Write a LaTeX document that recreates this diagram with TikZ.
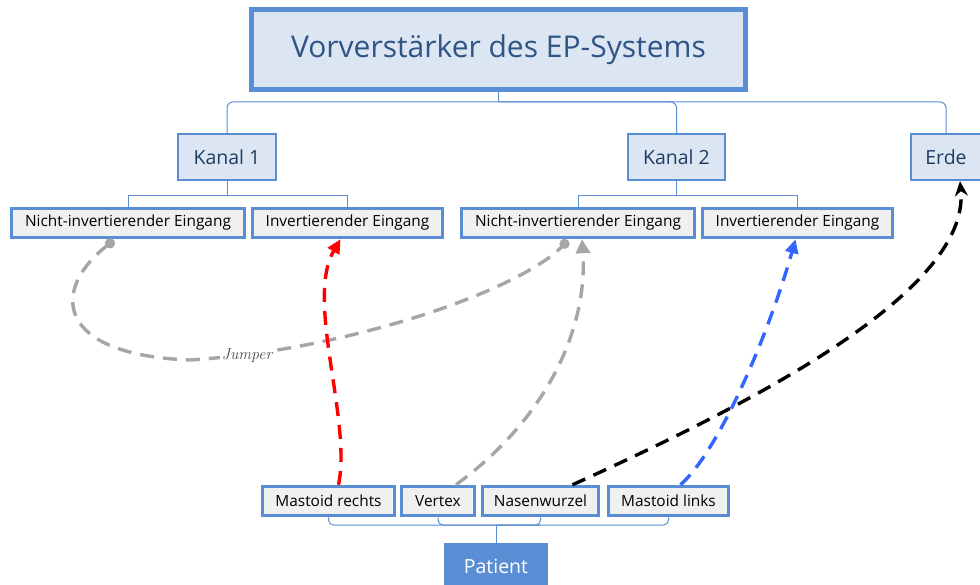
\documentclass[tikz,border=0pt]{standalone}
\usepackage{fontspec}
\newfontfamily\osans{Open Sans}
\usetikzlibrary{arrows.meta}
\definecolor{bbord}{HTML}{5A8ED4}
\definecolor{bfill}{HTML}{DCE6F2}
\definecolor{gfill}{HTML}{F0F0F0}
\definecolor{ttext}{HTML}{2E5586}
\definecolor{ktext}{HTML}{1F3B63}
\definecolor{jgray}{HTML}{A6A6A6}
\definecolor{jblue}{HTML}{3366FF}
\begin{document}
\begin{tikzpicture}[x=1pt,y=-1pt,
  titlebox/.style={draw=bbord,fill=bfill,line width=5pt,minimum width=494pt,minimum height=80pt,inner sep=0pt,text=ttext,font=\osans\fontsize{30}{35}\selectfont},
  kbox/.style={draw=bbord,fill=bfill,line width=2.2pt,minimum height=46pt,inner sep=0pt,text=ktext,font=\osans\fontsize{19.5}{23}\selectfont},
  ebox/.style={draw=bbord,fill=gfill,line width=3.5pt,minimum height=29pt,inner sep=0pt,text=black,font=\osans\fontsize{15.4}{18}\selectfont},
  pbox/.style={fill=bbord,minimum width=104pt,minimum height=46pt,inner sep=0pt,text=white,font=\osans\fontsize{19.5}{23}\selectfont},
  tree/.style={draw=bbord,line width=1pt},
  wire/.style={line width=3.4pt,dash pattern=on 14pt off 9pt},
]
\useasboundingbox (0,0) rectangle (980,585);
% nodes
\node[titlebox] (title) at (498.5,49.5) {Vorverstärker des EP-Systems};
\node[kbox,minimum width=98pt] (k1) at (227,157) {Kanal 1};
\node[kbox,minimum width=97pt] (k2) at (676.5,157) {Kanal 2};
\node[kbox,minimum width=70pt] (erde) at (946,157) {Erde};
\node[ebox,minimum width=233pt] (nk1) at (128,223) {Nicht-invertierender Eingang};
\node[ebox,minimum width=190pt] (ik1) at (347.5,223) {Invertierender Eingang};
\node[ebox,minimum width=233pt] (nk2) at (578,223) {Nicht-invertierender Eingang};
\node[ebox,minimum width=190pt] (ik2) at (797.5,223) {Invertierender Eingang};
\node[ebox,minimum width=132pt] (mr) at (328.5,501) {Mastoid rechts};
\node[ebox,minimum width=73pt] (vx) at (438,501) {Vertex};
\node[ebox,minimum width=116pt] (nw) at (540.5,501) {Nasenwurzel};
\node[ebox,minimum width=120pt] (ml) at (668.5,501) {Mastoid links};
\node[pbox] (pa) at (496,566) {Patient};
% top tree
\draw[tree] (title.south) -- coordinate[pos=1] (ta) ++(0,10);
\draw[tree,rounded corners=6pt] (ta) -| (k1.north);
\draw[tree,rounded corners=6pt] (ta) -| (k2.north);
\draw[tree,rounded corners=6pt] (ta) -| (erde.north);
% channel trees
\draw[tree] (k1.south) -- coordinate[pos=1] (t1) ++(0,14);
\draw[tree] (t1) -| (nk1.north);
\draw[tree] (t1) -| (ik1.north);
\draw[tree] (k2.south) -- coordinate[pos=1] (t2) ++(0,14);
\draw[tree] (t2) -| (nk2.north);
\draw[tree] (t2) -| (ik2.north);
% bottom tree
\coordinate (pj) at (496,525);
\draw[tree] (pa.north) -- (pj);
\draw[tree,rounded corners=5pt] (mr.south) |- (pj);
\draw[tree,rounded corners=5pt] (vx.south) |- (nw.south |- pj);
\draw[tree,rounded corners=5pt] (nw.south) |- (pj);
\draw[tree,rounded corners=5pt] (ml.south) |- (pj);
% wires
\draw[wire,jgray,{Circle[length=10pt]}-{Circle[length=10pt]}]
  ([xshift=-14pt,yshift=-1pt]nk1.south) .. controls (50,290) and (55,355) .. (190,360)
  .. controls (350,350) and (520,290) .. ([xshift=-10pt,yshift=-1pt]nk2.south);
\node[fill=white,inner sep=2pt,text=black!70,font=\itshape\fontsize{16}{18}\selectfont] (jl) at (247,356) {Jumper};
\draw[wire,jgray,-{Triangle[length=14pt,width=14pt]}]
  ([xshift=18pt]vx.north) .. controls (545,420) and (588,330) .. ([xshift=4pt]nk2.south);
\draw[wire,red,-{Triangle[length=14pt,width=13pt]}]
  ([xshift=10pt]mr.north) .. controls (352,420) and (305,300) .. ([xshift=-7pt]ik1.south);
\draw[wire,jblue,-{Triangle[length=14pt,width=13pt]}]
  ([xshift=12pt]ml.north) .. controls (720,450) and (770,330) .. ([xshift=-2pt]ik2.south);
\draw[wire,black,-{Stealth[length=15pt,width=13pt]}]
  ([xshift=32pt]nw.north) .. controls (760,400) and (970,290) .. ([xshift=14pt]erde.south);
\end{tikzpicture}
\end{document}
